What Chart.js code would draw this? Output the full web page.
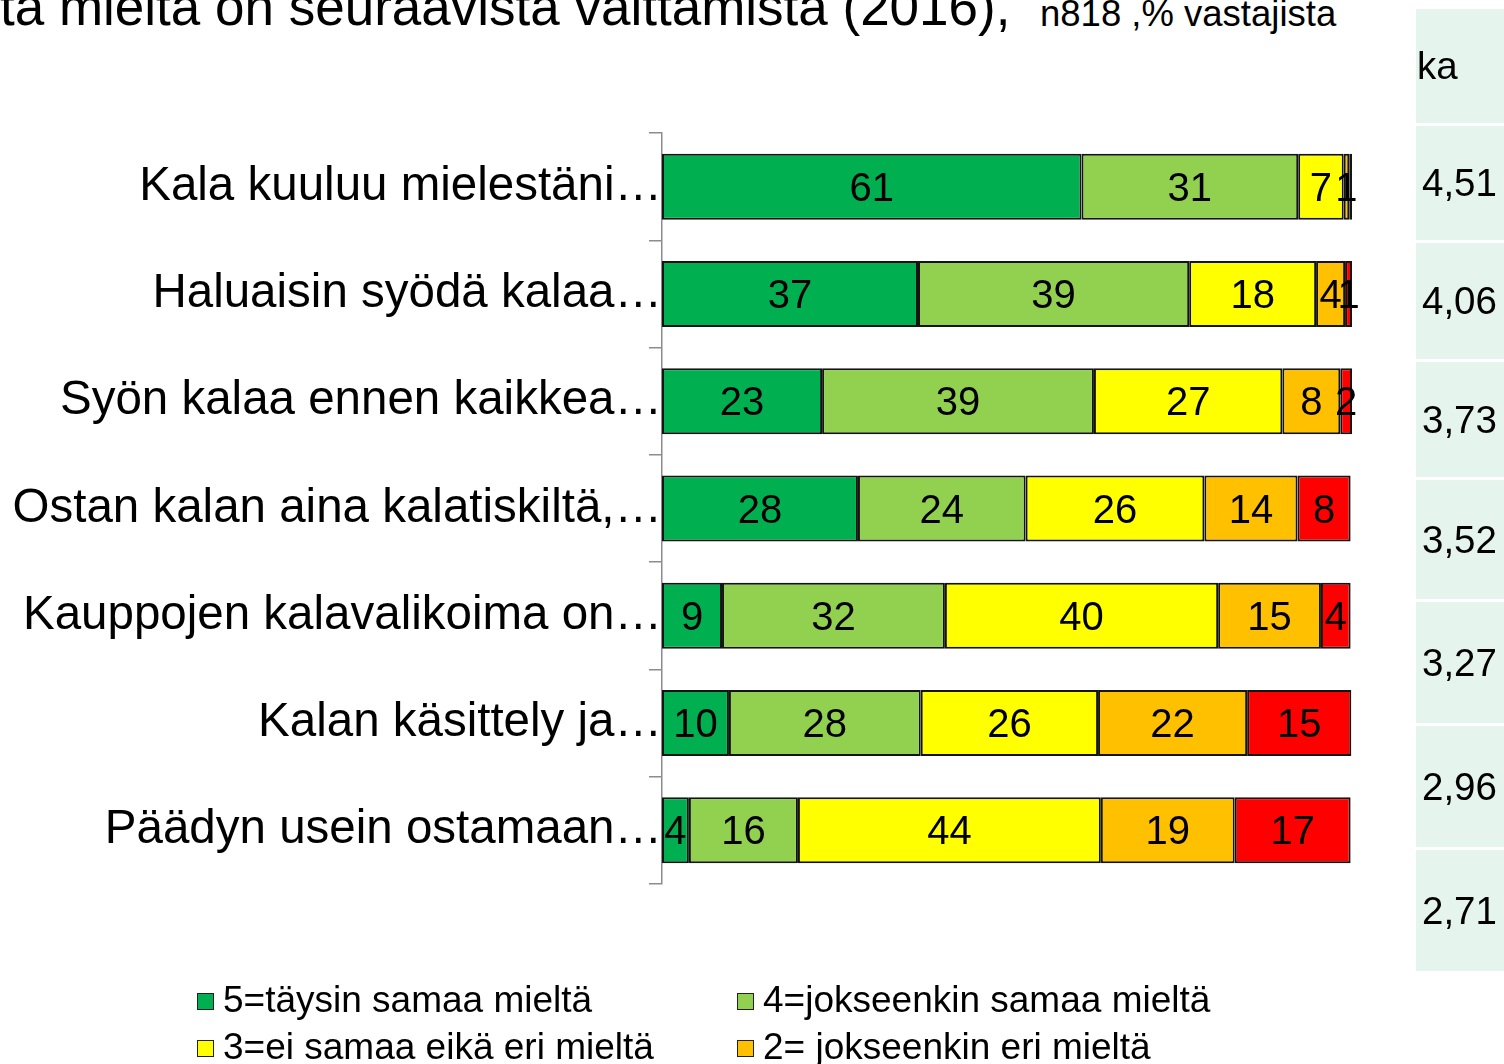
<!DOCTYPE html>
<html lang="fi">
<head>
<meta charset="utf-8">
<title>Kala väittämät 2016</title>
<script src="https://cdn.jsdelivr.net/npm/chart.js@4.4.1/dist/chart.umd.min.js"></script>
<style>
  html, body { margin: 0; padding: 0; background: #fff; }
  body { width: 1504px; height: 1064px; overflow: hidden; position: relative;
         font-family: "Liberation Sans", Arial, sans-serif; color: #000; }
  #wrap { position: absolute; left: 0; top: 0; width: 1504px; height: 1064px; }
  .title { position: absolute; left: 0; top: -20px; font-size: 53px; line-height: 53px; white-space: nowrap; }
  .sub { position: absolute; left: 1040px; top: -4px; font-size: 36.5px; line-height: 35px; white-space: nowrap; }
  #ka { position: absolute; left: 1416px; top: 9px; width: 88px; }
  #ka div { background: #e5f4ec; margin-bottom: 3px; font-size: 38.5px; display: flex; align-items: center; padding-left: 6px; box-sizing: border-box; }
  #ka div:first-child { padding-left: 1px; }
  #legend { position: absolute; left: 197px; top: 978px; display: grid;
            grid-template-columns: 540px 540px; row-gap: 4px; }
  #legend span.item { display: flex; align-items: center; font-size: 37px; line-height: 43px; white-space: nowrap; }
  #legend i { display: inline-block; width: 15px; height: 15px; border: 1.5px solid #222; margin-right: 9px; margin-top: 4px; }
</style>
</head>
<body>
<div class="title">ta mieltä on seuraavista väittämistä (2016),</div>
<div class="sub">n818 ,% vastajista</div>
<div id="wrap"><canvas id="chart" width="1504" height="1064"></canvas></div>
<div id="ka"></div>
<div id="legend"></div>
<script>
const categories = [
  'Kala kuuluu mielestäni…',
  'Haluaisin syödä kalaa…',
  'Syön kalaa ennen kaikkea…',
  'Ostan kalan aina kalatiskiltä,…',
  'Kauppojen kalavalikoima on…',
  'Kalan käsittely ja…',
  'Päädyn usein ostamaan…'
];
const seriesNames = [
  '5=täysin samaa mieltä',
  '4=jokseenkin samaa mieltä',
  '3=ei samaa eikä eri mieltä',
  '2= jokseenkin eri mieltä',
  '1=täysin eri mieltä'
];
const seriesColors = ['#00b050', '#92d050', '#ffff00', '#ffc000', '#ff0000'];
// % vastaajista, one array per answer option
const taysinSamaa     = [60.8, 37.1, 23.2, 28.4,  8.7,  9.7,  3.9];
const jokseenkinSamaa = [31.4, 39.3, 39.4, 24.3, 32.3, 27.8, 15.8];
const eiSamaaEiEri    = [ 6.6, 18.4, 27.3, 25.9, 39.6, 25.7, 43.9];
const jokseenkinEri   = [ 0.8,  4.2,  8.4, 13.5, 14.9, 21.6, 19.4];
const taysinEri       = [ 0.4,  1.0,  1.7,  7.7,  4.3, 15.1, 16.8];
const kaHeader = 'ka';
const kaValues = ['4,51', '4,06', '3,73', '3,52', '3,27', '2,96', '2,71'];

const FONT = '"Liberation Sans", Arial, sans-serif';
const series = [taysinSamaa, jokseenkinSamaa, eiSamaaEiEri, jokseenkinEri, taysinEri];

const segLabels = {
  id: 'segLabels',
  afterDatasetsDraw(chart) {
    const ctx = chart.ctx;
    ctx.save();
    ctx.font = '40px ' + FONT;
    ctx.fillStyle = '#000';
    ctx.textAlign = 'center';
    ctx.textBaseline = 'middle';
    chart.data.datasets.forEach((ds, i) => {
      chart.getDatasetMeta(i).data.forEach((bar, j) => {
        const v = ds.data[j];
        if (v < 0.5) return;
        ctx.fillText(String(Math.round(v)), (bar.x + bar.base) / 2, bar.y + 3);
      });
    });
    ctx.restore();
  }
};

const chart = new Chart(document.getElementById('chart'), {
  type: 'bar',
  data: {
    labels: categories,
    datasets: series.map((d, i) => ({
      label: seriesNames[i],
      data: d,
      backgroundColor: seriesColors[i],
      borderColor: '#141414',
      borderWidth: 2,
      borderSkipped: false,
      barPercentage: 0.615,
      categoryPercentage: 1
    }))
  },
  options: {
    indexAxis: 'y',
    responsive: false,
    animation: false,
    layout: { padding: { left: 0, right: 152, top: 133, bottom: 180 } },
    plugins: { legend: { display: false }, title: { display: false }, tooltip: { enabled: false } },
    scales: {
      x: { stacked: true, min: 0, max: 100, display: false },
      y: {
        stacked: true,
        afterFit: s => { s.width = 662; },
        grid: { drawOnChartArea: false, drawTicks: true, tickLength: 13, color: '#8c8c8c', lineWidth: 1.5, offset: true },
        border: { display: true, color: '#8c8c8c', width: 1.5 },
        ticks: { color: '#000', padding: -13, font: { family: FONT, size: 47.5 } }
      }
    }
  },
  plugins: [segLabels]
});

// ka column (keskiarvo)
const kaBox = document.getElementById('ka');
const kaHeights = [114, 114, 116, 115, 119, 121, 121, 121];
[kaHeader].concat(kaValues).forEach((t, i) => {
  const d = document.createElement('div');
  d.textContent = t;
  d.style.height = kaHeights[i] + 'px';
  kaBox.appendChild(d);
});

// legend built from the chart's datasets
const leg = document.getElementById('legend');
chart.data.datasets.forEach(ds => {
  const s = document.createElement('span');
  s.className = 'item';
  const box = document.createElement('i');
  box.style.background = ds.backgroundColor;
  s.appendChild(box);
  s.appendChild(document.createTextNode(ds.label));
  leg.appendChild(s);
});
</script>
</body>
</html>
